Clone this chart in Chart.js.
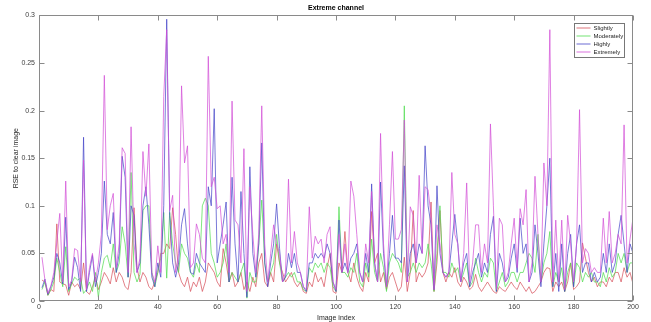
<!DOCTYPE html>
<html>
<head>
<meta charset="utf-8">
<title>Extreme channel</title>
<script src="https://cdn.jsdelivr.net/npm/chart.js@4/dist/chart.umd.min.js"></script>
<style>
html, body { margin: 0; padding: 0; background: #fff; }
</style>
</head>
<body>
<canvas id="rseChart" width="651" height="322"></canvas>
<script>

/* DATA */

const imageIndex = Array.from({length: 200}, (_, i) => i + 1);

const xTicks = [0, 20, 40, 60, 80, 100, 120, 140, 160, 180, 200];
const yTicks = [0, 0.05, 0.1, 0.15, 0.2, 0.25, 0.3];

const seriesNames = ["Slightly", "Moderately", "Highly", "Extremely"];

const slightly = [
0.022,0.020,0.006,0.012,0.010,0.081,0.020,0.018,0.017,0.006,
0.020,0.015,0.018,0.012,0.040,0.010,0.007,0.015,0.025,0.012,
0.020,0.030,0.025,0.018,0.035,0.020,0.030,0.025,0.015,0.012,
0.030,0.098,0.035,0.020,0.030,0.025,0.015,0.012,0.020,0.030,
0.050,0.050,0.060,0.055,0.098,0.070,0.030,0.020,0.015,0.025,
0.010,0.020,0.015,0.025,0.010,0.020,0.040,0.035,0.030,0.020,
0.015,0.055,0.040,0.020,0.030,0.015,0.020,0.030,0.012,0.020,
0.010,0.025,0.015,0.040,0.050,0.020,0.015,0.030,0.020,0.060,
0.040,0.030,0.020,0.025,0.030,0.020,0.015,0.020,0.010,0.008,
0.020,0.015,0.030,0.020,0.025,0.015,0.035,0.050,0.010,0.008,
0.040,0.030,0.073,0.030,0.020,0.040,0.025,0.015,0.010,0.030,
0.020,0.094,0.040,0.050,0.020,0.030,0.012,0.025,0.030,0.020,
0.010,0.015,0.046,0.010,0.030,0.095,0.020,0.030,0.025,0.030,
0.040,0.104,0.010,0.040,0.095,0.030,0.020,0.030,0.025,0.035,
0.020,0.015,0.025,0.020,0.012,0.015,0.028,0.015,0.010,0.015,
0.020,0.015,0.010,0.008,0.015,0.012,0.010,0.015,0.020,0.015,
0.012,0.020,0.015,0.010,0.015,0.008,0.010,0.015,0.020,0.030,
0.035,0.034,0.010,0.020,0.015,0.020,0.010,0.020,0.040,0.012,
0.015,0.020,0.061,0.045,0.030,0.020,0.025,0.015,0.020,0.020,
0.015,0.025,0.020,0.030,0.030,0.020,0.035,0.025,0.030,0.018
];

const moderately = [
0.012,0.020,0.006,0.012,0.020,0.045,0.030,0.015,0.057,0.010,
0.018,0.025,0.022,0.024,0.008,0.012,0.020,0.010,0.030,0.004,
0.030,0.045,0.048,0.035,0.060,0.030,0.040,0.078,0.060,0.025,
0.135,0.030,0.020,0.028,0.095,0.100,0.100,0.030,0.015,0.030,
0.045,0.093,0.024,0.093,0.060,0.040,0.030,0.060,0.050,0.045,
0.030,0.025,0.040,0.030,0.100,0.108,0.100,0.050,0.040,0.025,
0.030,0.040,0.060,0.020,0.030,0.025,0.020,0.030,0.040,0.003,
0.030,0.020,0.020,0.060,0.106,0.040,0.020,0.030,0.040,0.070,
0.040,0.020,0.025,0.030,0.025,0.030,0.020,0.020,0.012,0.010,
0.035,0.030,0.040,0.035,0.040,0.030,0.040,0.035,0.015,0.010,
0.099,0.030,0.030,0.025,0.035,0.030,0.050,0.020,0.015,0.040,
0.025,0.065,0.030,0.020,0.050,0.035,0.010,0.040,0.050,0.045,
0.040,0.030,0.205,0.025,0.030,0.040,0.030,0.040,0.035,0.040,
0.060,0.040,0.010,0.050,0.100,0.030,0.030,0.025,0.040,0.030,
0.035,0.020,0.030,0.040,0.015,0.020,0.045,0.030,0.020,0.030,
0.025,0.045,0.040,0.010,0.020,0.030,0.015,0.020,0.030,0.030,
0.020,0.030,0.030,0.040,0.050,0.045,0.030,0.070,0.020,0.040,
0.050,0.073,0.015,0.030,0.020,0.035,0.010,0.030,0.040,0.015,
0.040,0.035,0.020,0.030,0.025,0.030,0.020,0.020,0.015,0.030,
0.020,0.035,0.025,0.030,0.050,0.040,0.050,0.030,0.040,0.040
];

const highly = [
0.014,0.023,0.007,0.015,0.025,0.050,0.040,0.018,0.088,0.012,
0.020,0.046,0.035,0.010,0.172,0.010,0.030,0.048,0.015,0.030,
0.050,0.126,0.070,0.060,0.093,0.030,0.050,0.152,0.130,0.025,
0.100,0.090,0.030,0.040,0.100,0.120,0.080,0.025,0.015,0.040,
0.025,0.100,0.296,0.090,0.040,0.025,0.040,0.080,0.097,0.060,
0.030,0.028,0.050,0.040,0.035,0.030,0.120,0.100,0.202,0.040,
0.060,0.080,0.104,0.020,0.130,0.060,0.020,0.115,0.050,0.004,
0.141,0.050,0.025,0.060,0.166,0.040,0.015,0.040,0.060,0.102,
0.055,0.020,0.025,0.050,0.035,0.050,0.030,0.030,0.015,0.010,
0.040,0.040,0.050,0.045,0.050,0.045,0.060,0.050,0.020,0.010,
0.085,0.030,0.040,0.030,0.045,0.050,0.060,0.030,0.020,0.050,
0.030,0.123,0.040,0.020,0.125,0.050,0.015,0.050,0.090,0.045,
0.045,0.040,0.142,0.020,0.050,0.060,0.040,0.060,0.050,0.163,
0.100,0.080,0.012,0.121,0.050,0.030,0.025,0.030,0.060,0.091,
0.060,0.020,0.040,0.050,0.015,0.030,0.040,0.050,0.025,0.040,
0.030,0.070,0.089,0.010,0.050,0.040,0.020,0.025,0.045,0.060,
0.030,0.087,0.050,0.060,0.020,0.030,0.080,0.050,0.015,0.060,
0.100,0.150,0.015,0.050,0.010,0.060,0.010,0.050,0.070,0.015,
0.060,0.080,0.030,0.040,0.040,0.020,0.030,0.020,0.025,0.050,
0.030,0.060,0.030,0.040,0.070,0.090,0.060,0.030,0.060,0.050
];

const extremely = [
0.046,0.022,0.008,0.016,0.030,0.062,0.092,0.020,0.126,0.015,
0.022,0.055,0.053,0.020,0.148,0.012,0.035,0.050,0.020,0.040,
0.070,0.237,0.075,0.100,0.113,0.035,0.060,0.161,0.155,0.030,
0.183,0.060,0.030,0.045,0.157,0.110,0.165,0.030,0.020,0.058,
0.030,0.215,0.285,0.095,0.111,0.030,0.050,0.226,0.145,0.163,
0.035,0.040,0.081,0.070,0.045,0.040,0.257,0.120,0.130,0.097,
0.100,0.060,0.070,0.030,0.210,0.085,0.080,0.040,0.160,0.010,
0.120,0.070,0.030,0.070,0.205,0.060,0.020,0.050,0.080,0.060,
0.050,0.020,0.030,0.128,0.040,0.073,0.040,0.030,0.015,0.012,
0.099,0.045,0.068,0.060,0.065,0.040,0.070,0.078,0.020,0.012,
0.070,0.030,0.060,0.030,0.126,0.110,0.070,0.030,0.020,0.060,
0.040,0.115,0.040,0.020,0.176,0.060,0.015,0.080,0.157,0.065,
0.065,0.075,0.190,0.020,0.099,0.090,0.040,0.132,0.050,0.120,
0.117,0.090,0.012,0.080,0.060,0.030,0.025,0.030,0.135,0.070,
0.060,0.020,0.050,0.124,0.020,0.040,0.080,0.080,0.030,0.060,
0.040,0.186,0.100,0.012,0.087,0.080,0.020,0.030,0.060,0.087,
0.035,0.097,0.080,0.117,0.020,0.040,0.131,0.070,0.020,0.145,
0.100,0.285,0.020,0.085,0.020,0.085,0.012,0.090,0.060,0.020,
0.060,0.201,0.040,0.055,0.050,0.030,0.035,0.030,0.030,0.087,
0.040,0.094,0.040,0.050,0.070,0.060,0.185,0.040,0.065,0.087
];

const seriesValues = [slightly, moderately, highly, extremely];
const seriesColors = [
"rgba(214,80,90,0.8)",
"rgba(80,220,80,0.8)",
"rgba(70,70,200,0.8)",
"rgba(210,80,215,0.8)"
];


/* PLUGIN: MATLAB style box, inward ticks and legend */

const axesBox = {
id: "axesBox",
afterDraw(chart) {
const {ctx, chartArea: a, scales: {x, y}} = chart;
const L = Math.round(a.left) + 0.5, R = Math.round(a.right) - 0.5;
const T = Math.round(a.top) + 0.5, B = Math.round(a.bottom) - 0.5;
ctx.save();
ctx.strokeStyle = "#8a8a8a";
ctx.lineWidth = 1;
ctx.strokeRect(L, T, R - L, B - T);
ctx.beginPath();
xTicks.forEach(v => {
const px = Math.round(x.getPixelForValue(v)) + 0.5;
ctx.moveTo(px, B); ctx.lineTo(px, B - 5);
ctx.moveTo(px, T); ctx.lineTo(px, T + 5);
});
yTicks.forEach(v => {
const py = Math.round(y.getPixelForValue(v)) + 0.5;
ctx.moveTo(L, py); ctx.lineTo(L + 5, py);
ctx.moveTo(R, py); ctx.lineTo(R - 5, py);
});
ctx.stroke();

// legend
const bx = R - 58, by = T + 8, bw = 50, bh = 34;
ctx.fillStyle = "#fff";
ctx.fillRect(bx, by, bw, bh);
ctx.strokeStyle = "#777";
ctx.strokeRect(bx, by, bw, bh);
ctx.font = "6px 'Liberation Sans', Arial, sans-serif";
ctx.textBaseline = "middle";
seriesNames.forEach((name, i) => {
const ly = by + 4.5 + i * 8;
ctx.strokeStyle = seriesColors[i];
ctx.beginPath();
ctx.moveTo(bx + 2, ly); ctx.lineTo(bx + 16, ly);
ctx.stroke();
ctx.fillStyle = "#222";
ctx.fillText(name, bx + 19, ly);
});
ctx.restore();
}
};


/* CHART */

const tickFont = {family: "'Liberation Sans', Arial, sans-serif", size: 7};

new Chart(
document.getElementById("rseChart"),
{
type: "line",
data: {
datasets: seriesNames.map((name, i) => ({
label: name,
data: seriesValues[i].map((v, k) => ({x: imageIndex[k], y: v})),
borderColor: seriesColors[i],
borderWidth: 0.9,
pointRadius: 0,
tension: 0,
fill: false,
order: 4 - i
}))
},
options: {
responsive: false,
animation: false,
devicePixelRatio: 1,
layout: {padding: {left: 0, right: 18, top: 0, bottom: 0}},
plugins: {
legend: {display: false},
tooltip: {enabled: false},
title: {
display: true,
fullSize: false,
text: "Extreme channel",
color: "#000",
font: {family: "'Liberation Sans', Arial, sans-serif", size: 7, weight: "bold"},
padding: {top: 4, bottom: 3}
}
},
scales: {
x: {
type: "linear",
min: 0,
max: 200,
afterBuildTicks: s => { s.ticks = xTicks.map(v => ({value: v})); },
afterFit: s => { s.height = 21; },
grid: {display: false, drawTicks: false},
border: {display: false},
ticks: {font: tickFont, color: "#404040", padding: 2, maxRotation: 0, autoSkip: false},
title: {display: true, text: "Image index", font: tickFont, color: "#262626", padding: {top: 0, bottom: 0}}
},
y: {
min: 0,
max: 0.3,
afterBuildTicks: s => { s.ticks = yTicks.map(v => ({value: v})); },
afterFit: s => { s.width = 39; },
grid: {display: false, drawTicks: false},
border: {display: false},
ticks: {font: tickFont, color: "#404040", padding: 4, callback: v => String(v)},
title: {display: true, text: "RSE to clear image", font: tickFont, color: "#262626", padding: {top: 12, bottom: 0}}
}
}
},
plugins: [axesBox]
}
);
</script>
</body>
</html>
